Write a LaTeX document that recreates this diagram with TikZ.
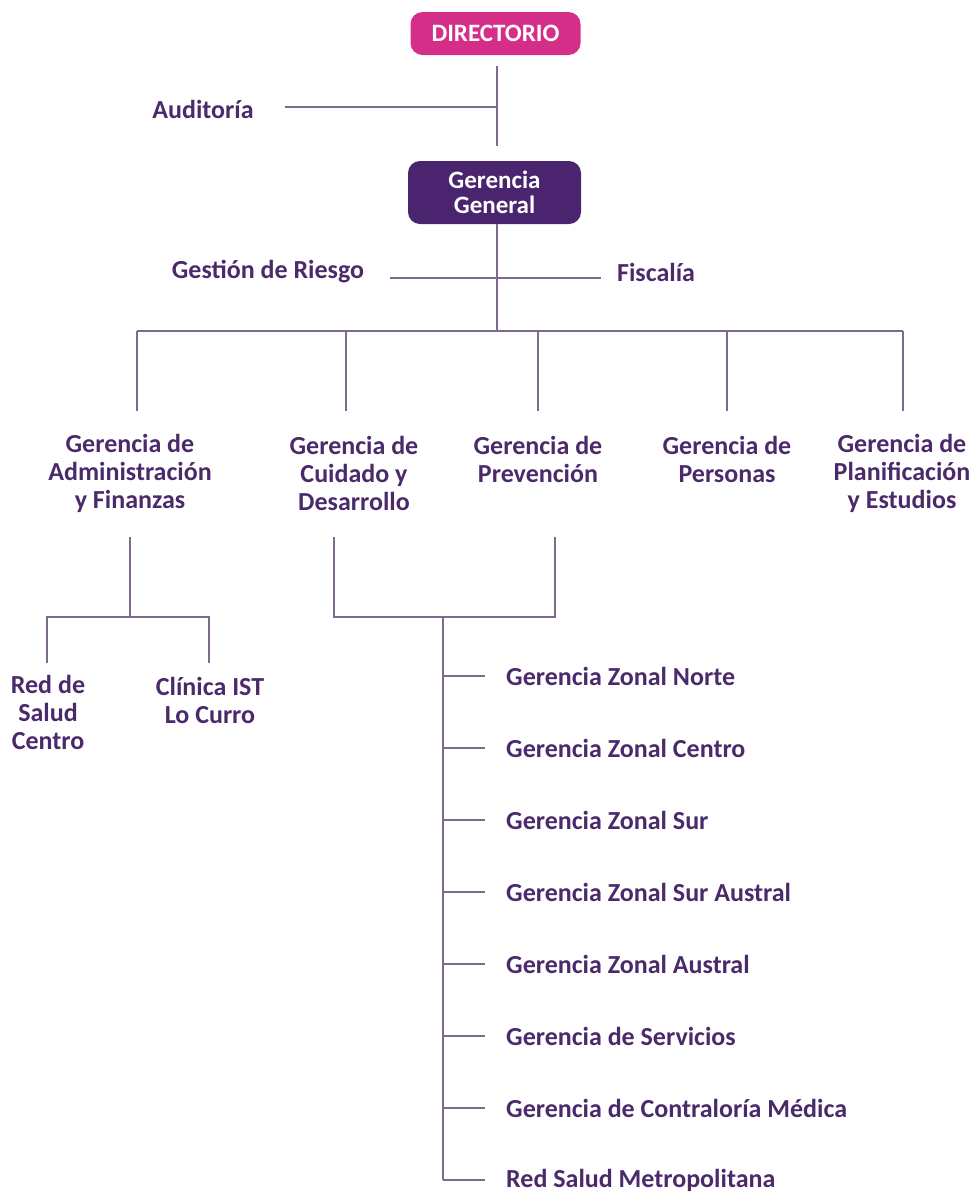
\documentclass[tikz,border=0pt]{standalone}
\usepackage{fontspec}
\setmainfont{Carlito}
\definecolor{txtpurple}{HTML}{4B2A6B}
\definecolor{linepurple}{HTML}{7E6A8E}
\definecolor{dirpink}{HTML}{D42E88}
\definecolor{ggpurple}{HTML}{4A246F}
\begin{document}
\begin{tikzpicture}[x=1pt,y=-1pt,
  lbl/.style={font=\fontsize{26}{28}\selectfont\bfseries, text=txtpurple, align=center, inner sep=0pt},
  lbll/.style={lbl, anchor=west},
  topbox/.style={rounded corners=12pt, font=\fontsize{25}{25}\selectfont\bfseries, text=white, align=center, inner sep=0pt},
  conn/.style={draw=linepurple, line width=1.5pt}]
\useasboundingbox (0,0) rectangle (973,1195);
% boxes
\node[topbox, fill=dirpink, minimum width=170pt, minimum height=43pt] (dir) at (495.5,33.5) {DIRECTORIO};
\node[topbox, fill=ggpurple, minimum width=173pt, minimum height=63pt] (gg) at (494.5,192.5) {Gerencia\\General};
% staff labels
\node[lbl] (aud) at (203,109) {Auditoría};
\node[lbl] (ries) at (268,272) {Gestión de Riesgo};
\node[lbl] (fisc) at (656,272) {Fiscalía};
% coordinates
\coordinate (d1) at (497,66);
\coordinate (d2) at (497,146);
\coordinate (daud) at (497,107);
\coordinate (aude) at (285,107);
\coordinate (g1) at (497,224);
\coordinate (gbus) at (497,331);
\coordinate (rl) at (390,278);
\coordinate (rr) at (601,278);
\coordinate (busl) at (137,331);
\coordinate (busr) at (903,331);
\foreach \n/\x in {a/137,b/346,c/538,d/727,e/903}{
  \coordinate (t\n) at (\x,331);
  \coordinate (b\n) at (\x,411);
}
% level 2
\node[lbl] (adm) at (130,473) {Gerencia de\\Administración\\y Finanzas};
\node[lbl] (cui) at (354,473) {Gerencia de\\Cuidado y\\Desarrollo};
\node[lbl] (pre) at (538,459) {Gerencia de\\Prevención};
\node[lbl] (per) at (727,459) {Gerencia de\\Personas};
\node[lbl] (pla) at (902,473) {Gerencia de\\Planificación\\y Estudios};
% admin subtree
\coordinate (adm1) at (130,537);
\coordinate (adm2) at (130,617);
\coordinate (al) at (47,617);
\coordinate (ar) at (209,617);
\coordinate (al2) at (47,663);
\coordinate (ar2) at (209,663);
\node[lbl] (red) at (48,712) {Red de\\Salud\\Centro};
\node[lbl] (cli) at (210,700) {Clínica IST\\Lo Curro};
% cuidado/prevencion subtree
\coordinate (c1) at (334,537);
\coordinate (c2) at (334,617);
\coordinate (p1) at (555,537);
\coordinate (p2) at (555,617);
\coordinate (m1) at (443,617);
\coordinate (m2) at (443,1180);
\foreach \i/\y/\t in {1/676/Gerencia Zonal Norte,2/748/Gerencia Zonal Centro,3/820/Gerencia Zonal Sur,4/892/Gerencia Zonal Sur Austral,5/964/Gerencia Zonal Austral,6/1036/Gerencia de Servicios,7/1108/Gerencia de Contraloría Médica,8/1180/Red Salud Metropolitana}{
  \coordinate (j\i) at (443,\y);
  \node[lbll] (z\i) at (506,\y) {\t};
  \draw[conn] (j\i) -- ([xshift=-21pt]z\i.west);
}
% connectors
\draw[conn] (d1) -- (d2);
\draw[conn] (aude) -- (daud);
\draw[conn] (g1) -- (gbus);
\draw[conn] (rl) -- (rr);
\draw[conn] (busl) -- (busr);
\foreach \n in {a,b,c,d,e}{\draw[conn] (t\n) -- (b\n);}
\draw[conn] (adm1) -- (adm2);
\draw[conn] (al2) -- (al) -- (ar) -- (ar2);
\draw[conn] (c1) -- (c2) -- (p2) -- (p1);
\draw[conn] (m1) -- (m2);
\end{tikzpicture}
\end{document}
